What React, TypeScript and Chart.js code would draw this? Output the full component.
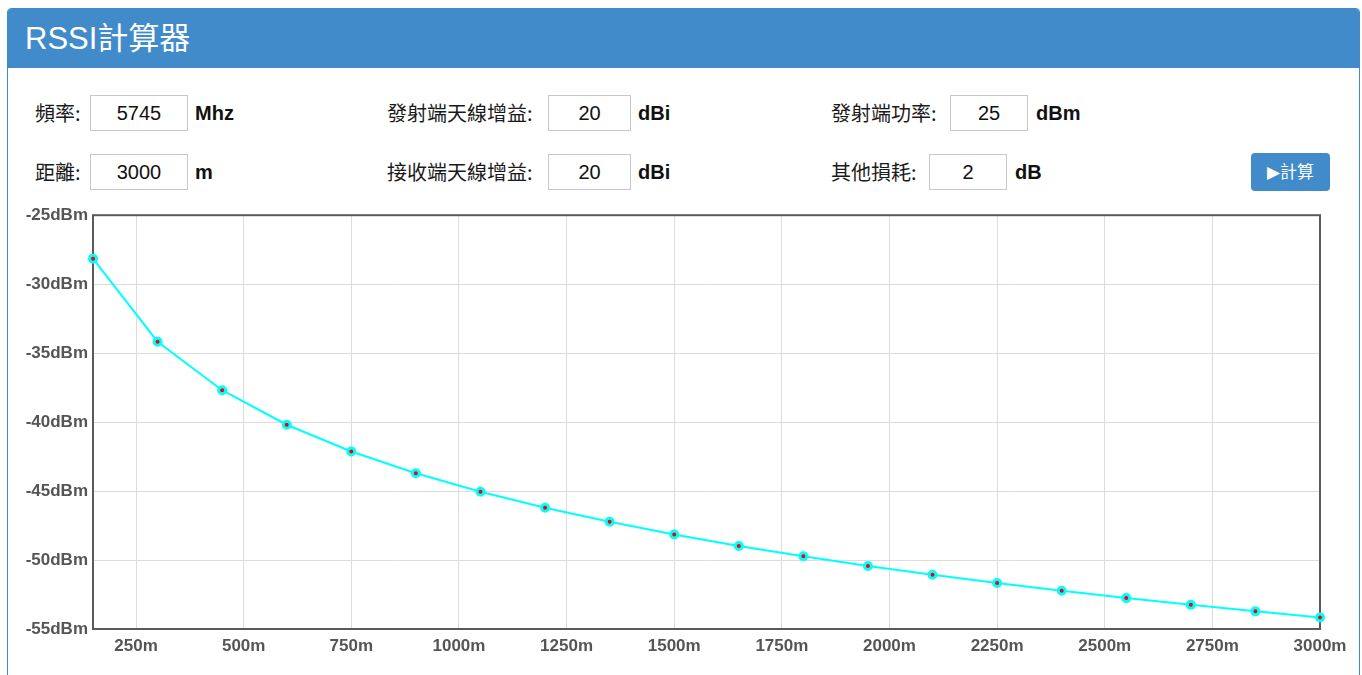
import React, { useEffect, useRef } from "react";
import { Chart, registerables } from "chart.js";
Chart.register(...registerables);

const distances = [150, 300, 450, 600, 750, 900, 1050, 1200, 1350, 1500, 1650, 1800, 1950, 2100, 2250, 2400, 2550, 2700, 2850, 3000];
const rssiValues = [-28.15, -34.17, -37.69, -40.19, -42.13, -43.71, -45.05, -46.21, -47.23, -48.15, -48.98, -49.73, -50.43, -51.07, -51.67, -52.23, -52.76, -53.25, -53.72, -54.17];
const xTickValues = [250, 500, 750, 1000, 1250, 1500, 1750, 2000, 2250, 2500, 2750, 3000];
const yMin = -55;
const yMax = -25;
const yStep = 5;

const SANS = "'Liberation Sans', Arial, 'Noto Sans CJK TC', sans-serif";
const BLUE = "#428bca";

const framePlugin = {
  id: "frame",
  beforeDatasetsDraw(chart: any) {
    const { ctx, chartArea } = chart;
    ctx.save();
    ctx.strokeStyle = "#5a5a5a";
    ctx.lineWidth = 2;
    ctx.strokeRect(chartArea.left, chartArea.top, chartArea.right - chartArea.left, chartArea.bottom - chartArea.top);
    ctx.restore();
  },
};

function Field(props: { label: string; value: string; unit: string; lx: number; ix: number; iw: number; ux: number; top: number }) {
  const { label, value, unit, lx, ix, iw, ux, top } = props;
  const h = 36;
  return (
    <>
      <div style={{ position: "absolute", left: lx, top, height: h, lineHeight: h + "px", fontSize: 20, color: "#1a1a1a", fontFamily: "'Noto Sans CJK TC', " + SANS, whiteSpace: "nowrap" }}>{label}</div>
      <div style={{ position: "absolute", left: ix, top, width: iw, height: h, boxSizing: "border-box", border: "1px solid #c8c8c8", lineHeight: h - 2 + "px", fontSize: 20, textAlign: "center", color: "#111", fontFamily: SANS, background: "#fff" }}>{value}</div>
      <div style={{ position: "absolute", left: ux, top, height: h, lineHeight: h + "px", fontSize: 20, fontWeight: "bold", color: "#111", fontFamily: SANS }}>{unit}</div>
    </>
  );
}

export default function App() {
  const canvasRef = useRef<HTMLCanvasElement | null>(null);

  useEffect(() => {
    if (!canvasRef.current) return;
    const chart = new Chart(canvasRef.current, {
      type: "line",
      data: {
        datasets: [
          {
            data: distances.map((d, i) => ({ x: d, y: rssiValues[i] })),
            borderColor: "#00ffff",
            borderWidth: 2,
            pointRadius: 3.5,
            pointBorderWidth: 3,
            pointBorderColor: "#00ffff",
            pointBackgroundColor: "#ff0000",
            tension: 0,
            clip: false as any,
          },
        ],
      },
      options: {
        animation: false,
        responsive: true,
        maintainAspectRatio: false,
        layout: { padding: { left: 0, right: 42, top: 14, bottom: 0 } },
        plugins: { legend: { display: false }, tooltip: { enabled: false } },
        scales: {
          x: {
            type: "linear",
            min: distances[0],
            max: distances[distances.length - 1],
            afterBuildTicks: (scale: any) => {
              scale.ticks = xTickValues.map((v) => ({ value: v }));
            },
            afterFit: (scale: any) => {
              scale.height = 46;
            },
            grid: { color: "#dcdcdc", drawTicks: false, lineWidth: 1 },
            border: { display: false },
            ticks: {
              padding: 7,
              color: "#555",
              font: { family: SANS, size: 17, weight: "bold" },
              maxRotation: 0,
              autoSkip: false,
              callback: (v: any) => v + "m",
            },
          },
          y: {
            min: yMin,
            max: yMax,
            afterFit: (scale: any) => {
              scale.width = 93;
            },
            grid: { color: "#dcdcdc", drawTicks: false, lineWidth: 1 },
            border: { display: false },
            ticks: {
              stepSize: yStep,
              padding: 5,
              color: "#555",
              font: { family: SANS, size: 17, weight: "bold" },
              callback: (v: any) => v + "dBm",
            },
          },
        },
      },
      plugins: [framePlugin],
    } as any);
    return () => chart.destroy();
  }, []);

  return (
    <div style={{ position: "absolute", left: 0, top: 0, width: 1362, height: 675, overflow: "hidden", background: "#fff" }}>
      <div style={{ position: "absolute", left: 7, top: 8, width: 1353, height: 720, boxSizing: "border-box", border: "1px solid " + BLUE, borderRadius: 4 }}>
        <div style={{ height: 59, background: BLUE, borderTopLeftRadius: 3, borderTopRightRadius: 3, color: "#fff", fontSize: 31, lineHeight: "59px", paddingLeft: 17, fontFamily: SANS }}>RSSI計算器</div>
      </div>
      <Field label="頻率:" value="5745" unit="Mhz" lx={35} ix={90} iw={98} ux={195} top={95} />
      <Field label="發射端天線增益:" value="20" unit="dBi" lx={387} ix={548} iw={83} ux={638} top={95} />
      <Field label="發射端功率:" value="25" unit="dBm" lx={831} ix={950} iw={78} ux={1036} top={95} />
      <Field label="距離:" value="3000" unit="m" lx={35} ix={90} iw={98} ux={195} top={154} />
      <Field label="接收端天線增益:" value="20" unit="dBi" lx={387} ix={548} iw={83} ux={638} top={154} />
      <Field label="其他損耗:" value="2" unit="dB" lx={831} ix={929} iw={78} ux={1015} top={154} />
      <div style={{ position: "absolute", left: 1251, top: 153, width: 79, height: 38, background: BLUE, borderRadius: 4, color: "#fff", fontSize: 17, lineHeight: "38px", textAlign: "center", fontFamily: "'DejaVu Sans', 'Noto Sans CJK TC', sans-serif" }}>▶計算</div>
      <div style={{ position: "absolute", left: 0, top: 200, width: 1362, height: 475 }}>
        <canvas ref={canvasRef} />
      </div>
    </div>
  );
}
